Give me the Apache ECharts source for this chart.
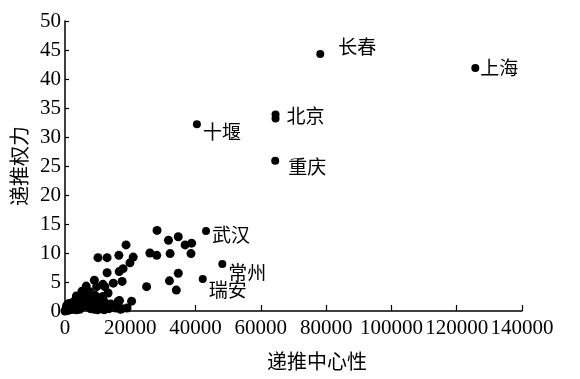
<!DOCTYPE html>
<html>
<head>
<meta charset="utf-8">
<script src="https://cdn.jsdelivr.net/npm/echarts@6/dist/echarts.min.js"></script>
<style>html,body{margin:0;padding:0;background:#fff;}#c{width:580px;height:379px;}</style>
</head>
<body>
<div id="c"></div>
<script>
// Labeled cities
const cityNames = ['长春', '上海', '北京', '北京2', '十堰', '重庆', '武汉', '常州', '瑞安'];
const cityX = [78200, 125700, 64500, 64500, 40400, 64400, 43200, 48200, 42200];
const cityY = [44.3, 41.9, 33.9, 33.2, 32.2, 25.9, 13.8, 8.1, 5.5];

// Unlabeled cities (spread points)
const otherX = [28200, 31700, 34700, 36800, 38800, 38600, 32200, 26000, 28100, 18700,
  16500, 20900, 19900, 12900, 10100, 12900, 16600, 17800, 17500, 14800,
  34700, 32000, 34100, 25000, 20400, 16700, 9000, 11600, 6500, 13200,
  11600, 16300, 9700, 12200];
const otherY = [13.9, 12.2, 12.8, 11.4, 11.7, 9.9, 9.9, 10.0, 9.6, 11.4,
  9.6, 9.3, 8.3, 9.2, 9.2, 6.6, 6.8, 7.3, 5.1, 4.8,
  6.5, 5.2, 3.6, 4.2, 1.7, 1.8, 5.3, 4.6, 4.3, 3.1,
  2.5, 1.7, 4.2, 4.2];

// Dense cluster near the origin
const clusterX = [300, 1000, 1500, 2000, 2500, 3000, 3200, 3800, 4200, 4500,
  5000, 5500, 6000, 6200, 7000, 7200, 7800, 8200, 8500, 9200,
  9500, 10200, 10800, 11500, 12000, 12800, 13500, 14500, 15500, 17500,
  1200, 2200, 600, 5200, 7600, 3500, 900,
  0, 500, 4000, 5000, 5600, 6300, 6800, 7500, 8000, 8800,
  9000, 9800, 10500, 11000, 11500, 13000, 14000, 16000, 17000, 19000,
  3500, 2000, 1500, 2700, 6500, 9000, 10000, 12000];
const clusterY = [0.3, 0.6, 0.2, 1.0, 1.5, 0.4, 1.9, 1.0, 2.3, 0.3,
  1.6, 2.8, 0.8, 2.0, 3.0, 1.3, 0.4, 2.4, 1.5, 2.7,
  0.7, 2.0, 1.2, 0.5, 1.6, 1.0, 0.4, 0.9, 0.5, 0.4,
  1.3, 0.3, 1.0, 3.4, 3.3, 2.6, 0.1,
  0.0, 0.8, 1.6, 0.6, 1.9, 3.0, 2.2, 2.6, 1.2, 0.8,
  2.0, 1.4, 2.2, 0.5, 1.8, 0.9, 1.2, 0.8, 0.3, 0.5,
  0.2, 0.3, 0.9, 1.1, 1.2, 0.3, 0.2, 0.2];

const xTicks = { min: 0, max: 140000, interval: 20000 };
const yTicks = { min: 0, max: 50, interval: 5 };

// label style offsets (presentation only)
const labelOffsets = {
  '长春': [14, -7], '上海': [1, 0], '北京': [7, 1], '十堰': [2, 8], '重庆': [9, 6],
  '武汉': [2, 4], '常州': [2, 9], '瑞安': [2, 11]
};

const pts = [];
for (let i = 0; i < otherX.length; i++) pts.push([otherX[i], otherY[i]]);
for (let i = 0; i < clusterX.length; i++) pts.push([clusterX[i], clusterY[i]]);

const cityData = cityNames.map((n, i) => {
  const off = labelOffsets[n];
  return {
    name: n,
    value: [cityX[i], cityY[i]],
    label: off ? { show: true, position: 'right', distance: 0, offset: off, formatter: n } : { show: false }
  };
});

const chart = echarts.init(document.getElementById('c'), null, { renderer: 'canvas' });
const axisFont = { fontFamily: 'Liberation Serif', fontSize: 21, color: '#000' };
chart.setOption({
  animation: false,
  backgroundColor: '#fff',
  grid: { left: 65, right: 58, top: 21, bottom: 68, containLabel: false },
  xAxis: {
    type: 'value', min: xTicks.min, max: xTicks.max, interval: xTicks.interval,
    name: '递推中心性', nameLocation: 'middle', nameGap: 40,
    nameTextStyle: { fontFamily: 'Noto Sans CJK SC', fontSize: 20, color: '#000', padding: [0, 0, 0, 47] },
    axisLine: { show: true, lineStyle: { color: '#000', width: 1.5 } },
    axisTick: { show: true, inside: true, length: 6, lineStyle: { color: '#000', width: 1.2 } },
    axisLabel: Object.assign({ margin: 7, formatter: v => String(v), showMaxLabel: true, showMinLabel: true, hideOverlap: false }, axisFont),
    splitLine: { show: false }
  },
  yAxis: {
    type: 'value', min: yTicks.min, max: yTicks.max, interval: yTicks.interval,
    name: '递推权力', nameLocation: 'middle', nameGap: 34,
    nameTextStyle: { fontFamily: 'Noto Sans CJK SC', fontSize: 20, color: '#000' },
    axisLine: { show: true, lineStyle: { color: '#000', width: 1.5 } },
    axisTick: { show: true, inside: true, length: 4, lineStyle: { color: '#000', width: 1.2 } },
    axisLabel: Object.assign({ margin: 4, formatter: v => String(v) }, axisFont),
    splitLine: { show: false }
  },
  series: [
    {
      type: 'scatter', data: pts, symbolSize: 9, clip: false,
      itemStyle: { color: '#000', opacity: 1 }
    },
    {
      type: 'scatter', data: cityData, symbolSize: 8, clip: false,
      itemStyle: { color: '#000', opacity: 1 },
      label: { fontFamily: 'Noto Sans CJK SC', fontSize: 19, color: '#000' }
    }
  ]
});
</script>
</body>
</html>
